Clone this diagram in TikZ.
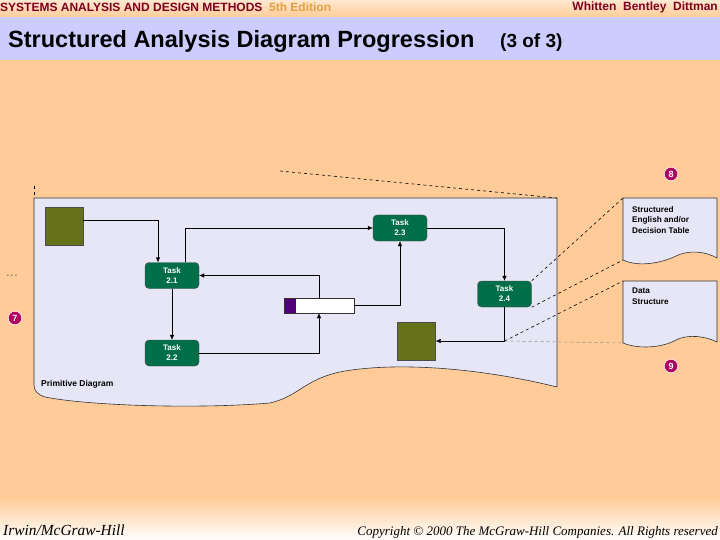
\documentclass[tikz,border=0pt]{standalone}
\usepackage{fontspec}
\setmainfont{Liberation Sans}
\newfontfamily\footfont{Liberation Serif}
\usetikzlibrary{arrows.meta, positioning, calc}
\definecolor{peach}{RGB}{255,204,153}
\definecolor{lightpeach}{RGB}{255,232,208}
\definecolor{bandblue}{RGB}{204,204,255}
\definecolor{sheetblue}{RGB}{230,230,246}
\definecolor{taskgreen}{RGB}{0,110,72}
\definecolor{olivebox}{RGB}{102,114,26}
\definecolor{storepurple}{RGB}{80,0,120}
\definecolor{maroon}{RGB}{128,0,32}
\definecolor{edition}{RGB}{225,160,70}
\definecolor{dotpink}{RGB}{176,0,96}

\begin{document}
\begin{tikzpicture}[x=1pt, y=-1pt,
  task/.style={rectangle, rounded corners=4pt, draw=black!70, fill=taskgreen, text=white, align=center, minimum width=54pt, minimum height=26pt, inner sep=1pt, font=\bfseries\fontsize{8}{10}\selectfont},
  ext/.style={rectangle, draw=black!70, fill=olivebox, minimum width=38pt, minimum height=38pt},
  store/.style={rectangle, draw=black!80, fill=white, minimum width=70pt, minimum height=15pt, inner sep=0pt,
    path picture={\fill[storepurple] (path picture bounding box.north west) rectangle ([xshift=12pt]path picture bounding box.south west);}},
  numdot/.style={circle, fill=dotpink, draw=white, line width=0.5pt, text=white, minimum size=13.5pt, inner sep=0pt, font=\bfseries\fontsize{9}{9}\selectfont},
  doctext/.style={anchor=north west, align=left, inner sep=0pt, font=\bfseries\fontsize{8.2}{10.5}\selectfont},
  sheetline/.style={draw=black!80, line width=0.6pt},
  zoomline/.style={dashed, line width=0.6pt},
  >={Latex[length=5pt, width=4.5pt]}]
\useasboundingbox (0,0) rectangle (720,540);
% page
\fill[peach] (0,0) rectangle (720,540);
\shade[top color=lightpeach, bottom color=peach] (0,0) rectangle (720,17);
\fill[bandblue] (0,17) rectangle (720,60);
\shade[top color=peach, bottom color=white] (0,498) rectangle (720,540);
\node[anchor=west, inner sep=0pt, font=\bfseries\fontsize{12}{14}\selectfont] (head) at (0,7)
  {\textcolor{maroon}{SYSTEMS ANALYSIS AND DESIGN METHODS}\ \ \textcolor{edition}{5th Edition}};
\node[anchor=east, inner sep=0pt, font=\bfseries\fontsize{12}{14}\selectfont, text=maroon] (authors) at (718,7)
  {Whitten\ \ Bentley\ \ Dittman};
\node[anchor=base west, inner sep=0pt, font=\bfseries\fontsize{23.5}{26}\selectfont] (title) at (8,48)
  {Structured Analysis Diagram Progression};
\node[anchor=base west, inner sep=0pt, font=\bfseries\fontsize{19}{22}\selectfont] (part) at (500,48) {(3 of 3)};
\node[anchor=base west, inner sep=0pt, font=\footfont\itshape\fontsize{15.4}{17}\selectfont] (publisher) at (3,535) {Irwin/McGraw-Hill};
\node[anchor=base east, inner sep=0pt, font=\footfont\itshape\fontsize{13}{16}\selectfont] (copy) at (718,535)
  {Copyright \textcopyright\ 2000 The McGraw-Hill Companies. All Rights reserved};

% primitive diagram sheet
\coordinate (snw) at (34,198);
\coordinate (sne) at (557,198);
\filldraw[fill=sheetblue, sheetline] (snw) -- (sne) -- (557,387)
  .. controls (480,368) and (400,362) .. (345,371)
  .. controls (305,378) and (300,396) .. (270,403)
  .. controls (200,409) and (90,406) .. (45,397)
  .. controls (38,395) and (34,391) .. (34,385) -- cycle;
\draw[zoomline] (280,171) -- (sne);
\draw[zoomline] (34,186) -- (snw);
\node[font=\bfseries\fontsize{9}{9}\selectfont, text=black!55] (dots) at (12,276) {.\,.\,.};
\node[numdot] (n7) at (15,318) {7};
\node[numdot] (n8) at (671,174) {8};
\node[numdot] (n9) at (671,366) {9};
\node[anchor=west, inner sep=0pt, font=\bfseries\fontsize{8.5}{9}\selectfont] (prim) at (41,384) {Primitive Diagram};

\node[ext] (source) at (64,226.5) {};
\node[task] (t21) at (172,275.5) {Task\\2.1};
\node[task] (t22) at (172,353) {Task\\2.2};
\node[task] (t23) at (400,228) {Task\\2.3};
\node[task] (t24) at (504.5,294) {Task\\2.4};
\node[store] (store) at (319,305.5) {};
\node[ext] (sink) at (416.5,341) {};

\draw[->] ([yshift=6.5pt]source.east) -| ([xshift=-14pt]t21.north);
\draw[->] ([xshift=13pt]t21.north) |- (t23.west);
\draw[->] (t23.east) -| (t24.north);
\draw[->] (t21) -- (t22);
\draw[->] (t22.east) -| (store.south);
\draw[->] (store.north) |- (t21.east);
\draw[->] (store.east) -| (t23.south);
\draw[->] (t24.south) |- (sink.east);
\coordinate (bend) at (t24.south |- sink.east);

% process specification and data dictionary pages
\coordinate (d1nw) at (623,198);
\coordinate (d1sw) at (623,260);
\coordinate (d2nw) at (623,281);
\coordinate (d2sw) at (623,343);
\filldraw[fill=sheetblue, sheetline] (d1sw) -- (d1nw) -- (717,198) -- (717,258)
  .. controls (705,251) and (688,250) .. (676,256)
  .. controls (664,262) and (640,268) .. cycle;
\filldraw[fill=sheetblue, sheetline] (d2sw) -- (d2nw) -- (717,281) -- (717,342)
  .. controls (705,336) and (688,334) .. (676,340)
  .. controls (664,347) and (640,350) .. cycle;
\node[doctext] (spec) at (632,206) {Structured\\English and/or\\Decision Table};
\node[doctext] (dict) at (632,288) {Data\\Structure};

\draw[zoomline] (t24.north east) -- (d1nw);
\draw[zoomline] (t24.south east) -- (d1sw);
\draw[zoomline] (bend) -- (d2nw);
\draw[zoomline, black!45, line width=0.5pt] (bend) -- (d2sw);
\end{tikzpicture}
\end{document}
